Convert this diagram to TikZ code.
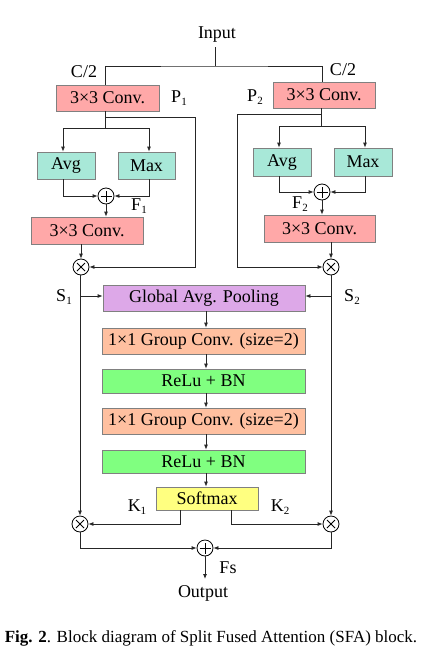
\documentclass[tikz,border=0pt]{standalone}
\usepackage{fontspec}
\setmainfont{Liberation Serif}
\usetikzlibrary{arrows.meta,calc}
\definecolor{cpink}{HTML}{FFA8A8}
\definecolor{cteal}{HTML}{A8E8D8}
\definecolor{cpurp}{HTML}{DDA8E8}
\definecolor{corng}{HTML}{FFC0A0}
\definecolor{cgreen}{HTML}{80FF80}
\definecolor{cyell}{HTML}{FFFF80}
\newcommand\sbs[1]{\raisebox{-0.45ex}{\fontsize{11pt}{11pt}\selectfont #1}}
\tikzset{
  blk/.style={draw=black!50, line width=0.8pt, inner sep=0pt, minimum height=26pt, font=\fontsize{18pt}{20pt}\selectfont},
  lbl/.style={inner sep=0pt, font=\fontsize{18pt}{20pt}\selectfont},
  opc/.style={circle, draw=black, line width=0.8pt, minimum size=16pt, inner sep=0pt},
  plusop/.style={opc, path picture={\draw[line width=0.8pt] ($(path picture bounding box.center)+(-5.5pt,0)$) -- ($(path picture bounding box.center)+(5.5pt,0)$) ($(path picture bounding box.center)+(0,-5.5pt)$) -- ($(path picture bounding box.center)+(0,5.5pt)$);}},
  timesop/.style={opc, path picture={\draw[line width=0.8pt] ($(path picture bounding box.center)+(-4pt,-4pt)$) -- ($(path picture bounding box.center)+(4pt,4pt)$) ($(path picture bounding box.center)+(-4pt,4pt)$) -- ($(path picture bounding box.center)+(4pt,-4pt)$);}},
  ln/.style={draw=black!85, line width=0.8pt},
  arr/.style={ln, -{Latex[length=5pt,width=4pt]}}
}
\begin{document}
\begin{tikzpicture}[x=1pt,y=-1pt]
\useasboundingbox[fill=white] (0,0) rectangle (422,665);
% nodes
\node[lbl] (input) at (217,35) {Input};
\node[blk, fill=cpink, minimum width=103pt] (c1l) at (107.5,98) {3×3 Conv.};
\node[blk, fill=cpink, minimum width=102pt] (c1r) at (324,95) {3×3 Conv.};
\node[blk, fill=cteal, minimum width=58pt, minimum height=27pt] (avgl) at (66,165.5) {Avg};
\node[blk, fill=cteal, minimum width=57pt, minimum height=27pt] (maxl) at (146.5,165.5) {Max};
\node[blk, fill=cteal, minimum width=58pt, minimum height=28pt] (avgr) at (282,162) {Avg};
\node[blk, fill=cteal, minimum width=58pt, minimum height=28pt] (maxr) at (363,162) {Max};
\node[plusop] (pl) at (106,196) {};
\node[plusop] (pr) at (322,192) {};
\node[blk, fill=cpink, minimum width=112pt, minimum height=27pt] (c2l) at (87,230.5) {3×3 Conv.};
\node[blk, fill=cpink, minimum width=111pt, minimum height=27pt] (c2r) at (319.5,228.5) {3×3 Conv.};
\node[timesop] (ol1) at (81,267) {};
\node[timesop] (or1) at (331,267) {};
\node[blk, fill=cpurp, minimum width=202pt] (gap) at (204,298) {Global Avg. Pooling};
\node[blk, fill=corng, minimum width=203pt] (gc1) at (203.5,341) {1×1 Group Conv. (size=2)};
\node[blk, fill=cgreen, minimum width=203pt, minimum height=24pt] (rb1) at (203.5,381) {ReLu + BN};
\node[blk, fill=corng, minimum width=203pt] (gc2) at (203.5,421) {1×1 Group Conv. (size=2)};
\node[blk, fill=cgreen, minimum width=203pt, minimum height=23pt] (rb2) at (203.5,461.5) {ReLu + BN};
\node[blk, fill=cyell, minimum width=102pt, minimum height=23pt] (sm) at (207,498.5) {Softmax};
\node[timesop] (ol2) at (80,524) {};
\node[timesop] (or2) at (331,524) {};
\node[plusop] (pb) at (205,548) {};
\node[lbl] (output) at (203,593) {Output};
\coordinate (outend) at (205,579);
% labels
\node[lbl] (cl) at (84,72) {C/2};
\node[lbl] (cr) at (343,70) {C/2};
\node[lbl] (p1) at (179,98) {P\sbs{1}};
\node[lbl] (p2) at (255,97) {P\sbs{2}};
\node[lbl] (f1) at (139,206) {F\sbs{1}};
\node[lbl] (f2) at (300,204) {F\sbs{2}};
\node[lbl] (s1) at (64,297) {S\sbs{1}};
\node[lbl] (s2) at (352,297) {S\sbs{2}};
\node[lbl] (k1) at (137,507) {K\sbs{1}};
\node[lbl] (k2) at (280,507) {K\sbs{2}};
\node[lbl] (fs) at (228,568) {Fs};
\node[inner sep=0pt, font=\fontsize{17pt}{19pt}\selectfont] (cap) at (211,638) {\textbf{Fig. 2}. Block diagram of Split Fused Attention (SFA) block.};
% input split
\draw[ln] (input.south) ++(-2,4) coordinate (ia) -- (ia |- 0,66) coordinate (ib);
\draw[ln] (c1l.north -| 105,0) |- (ib) -| (c1r.north -| 322,0);
% left branch
\draw[ln] (c1l.south -| 105,0) -- (105,128);
\draw[ln] (63,128) -- (149,128);
\draw[arr] (63,128) -- (avgl.north -| 63,0);
\draw[arr] (149,128) -- (maxl.north -| 149,0);
\draw[arr] (105,117) -- (195,117) |- (ol1.east);
\draw[arr] (avgl.south -| 63,0) |- (pl.west);
\draw[arr] (maxl.south -| 149,0) |- (pl.east);
\draw[arr] (pl.south) -- (c2l.north -| pl);
\draw[arr] (c2l.south -| ol1) -- (ol1.north);
% right branch
\draw[ln] (c1r.south -| 321,0) -- (321,126);
\draw[ln] (279,126) -- (365,126);
\draw[arr] (279,126) -- (avgr.north -| 279,0);
\draw[arr] (365,126) -- (maxr.north -| 365,0);
\draw[arr] (321,114) -- (237,114) |- (or1.west);
\draw[arr] (avgr.south -| 279,0) |- (pr.west);
\draw[arr] (maxr.south -| 365,0) |- (pr.east);
\draw[arr] (pr.south) -- (c2r.north -| pr);
\draw[arr] (c2r.south -| or1) -- (or1.north);
% middle
\draw[arr] (ol1.south -| 80,0) -- (ol2.north);
\draw[arr] (80,296) -- (gap.west |- 0,296);
\draw[arr] (or1.south) -- (or2.north);
\draw[arr] (331,296) -- (gap.east |- 0,296);
\draw[arr] (gap.south -| 206,0) -- (gc1.north -| 206,0);
\draw[arr] (gc1.south -| 206,0) -- (rb1.north -| 206,0);
\draw[arr] (rb1.south -| 206,0) -- (gc2.north -| 206,0);
\draw[arr] (gc2.south -| 206,0) -- (rb2.north -| 206,0);
\draw[arr] (rb2.south -| 206,0) -- (sm.north -| 206,0);
\draw[arr] (sm.south -| 180,0) |- (ol2.east);
\draw[arr] (sm.south -| 231,0) |- (or2.west);
\draw[arr] (ol2.south) |- (pb.west);
\draw[arr] (or2.south) |- (pb.east);
\draw[arr] (pb.south) -- (outend);
\end{tikzpicture}
\end{document}
